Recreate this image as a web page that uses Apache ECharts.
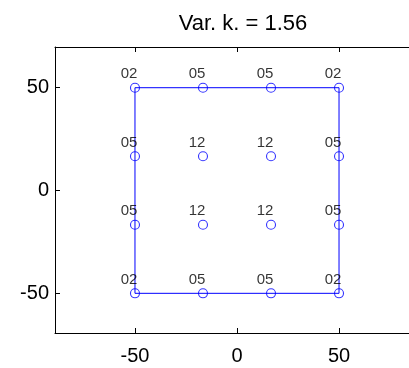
<!DOCTYPE html>
<html>
<head>
<meta charset="utf-8">
<script src="https://cdn.jsdelivr.net/npm/echarts@6/dist/echarts.min.js"></script>
<style>
  html, body { margin: 0; padding: 0; background: #fff; }
  #chart { width: 409px; height: 368px; }
</style>
</head>
<body>
<div id="chart"></div>
<script>
// Grid of sample positions (same along x and y)
const gridX = [-50, -16.67, 16.67, 50];
const gridY = [50, 16.67, -16.67, -50];
// Value label for each position, row by row from top
const cellLabels = [
  ['02', '05', '05', '02'],
  ['05', '12', '12', '05'],
  ['05', '12', '12', '05'],
  ['02', '05', '05', '02']
];
// Outline of the sampled square
const outlineX = [-50, -50, 50, 50, -50];
const outlineY = [-50, 50, 50, -50, -50];
const xTicks = [-50, 0, 50];
const yTicks = [-50, 0, 50];
// Visible axis extents (the plot box runs past the right edge of the page)
const xRange = [-89.2, 84.3];
const yRange = [-69.3, 69.8];
const titleText = 'Var. k. = 1.56';

const points = [];
gridY.forEach((y, r) => gridX.forEach((x, c) => points.push([x, y, cellLabels[r][c]])));
const outline = outlineX.map((x, i) => [x, outlineY[i]]);

const font = 'Liberation Sans, Arial, Helvetica, sans-serif';
const axisLine = { show: true, onZero: false, lineStyle: { color: '#000', width: 1 } };
const tick = vals => ({ show: true, inside: true, length: 5, customValues: vals, lineStyle: { color: '#000' } });

const chart = echarts.init(document.getElementById('chart'), null, { renderer: 'canvas' });
chart.setOption({
  animation: false,
  title: {
    text: titleText, left: 238, top: 8, textAlign: 'center',
    textStyle: { fontFamily: font, fontSize: 22, fontWeight: 'normal', color: '#000' }
  },
  grid: { left: 55, top: 47, right: 0, height: 286 },
  xAxis: [{
    type: 'value', min: xRange[0], max: xRange[1], position: 'bottom',
    axisLine: axisLine,
    axisTick: tick(xTicks),
    axisLabel: { customValues: xTicks, fontFamily: font, fontSize: 20, color: '#000', margin: 13 },
    splitLine: { show: false }
  }, {
    type: 'value', min: xRange[0], max: xRange[1], position: 'top',
    axisLine: axisLine,
    axisTick: tick(xTicks),
    axisLabel: { show: false },
    splitLine: { show: false }
  }],
  yAxis: [{
    type: 'value', min: yRange[0], max: yRange[1], position: 'left',
    axisLine: axisLine,
    axisTick: tick(yTicks),
    axisLabel: { customValues: yTicks, fontFamily: font, fontSize: 20, color: '#000', margin: 6 },
    splitLine: { show: false }
  }],
  series: [{
    type: 'line', data: outline, showSymbol: false, symbol: 'none',
    lineStyle: { color: '#0000ff', width: 1 }, z: 2
  }, {
    type: 'scatter', data: points, symbol: 'circle', symbolSize: 9,
    itemStyle: { color: 'transparent', borderColor: '#0000ff', borderWidth: 1.1 },
    label: {
      show: true, position: 'top', distance: 1, offset: [-6, 0],
      formatter: p => p.value[2],
      fontFamily: font, fontSize: 15, color: '#000'
    },
    z: 3
  }]
});
</script>
</body>
</html>
